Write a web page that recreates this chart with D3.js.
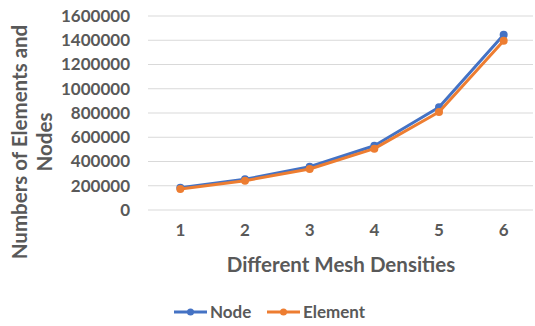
<!DOCTYPE html>
<html>
<head>
<meta charset="utf-8">
<script src="https://cdn.jsdelivr.net/npm/d3@7"></script>
<style>
  body { margin: 0; background: #fff; }
  text { font-family: Lato, "Open Sans", sans-serif; font-weight: bold; fill: #595959; }
</style>
</head>
<body>
<div id="plotarea"></div>
<script>
// mesh density levels and counts
var densities = ["1", "2", "3", "4", "5", "6"];
var nodeCounts = [184000, 253000, 357000, 530000, 847000, 1446000];
var elementCounts = [173000, 242000, 338000, 506000, 808000, 1396000];
var yTicks = [0, 200000, 400000, 600000, 800000, 1000000, 1200000, 1400000, 1600000];
var seriesNames = ["Node", "Element"];
var seriesColors = ["#4472C4", "#ED7D31"];

var W = 535, H = 326;
var plotLeft = 148, plotRight = 536, plotTop = 16, plotBottom = 210;

var svg = d3.select("#plotarea").append("svg")
  .attr("width", W).attr("height", H);

var x = d3.scaleBand().domain(densities).range([plotLeft, plotRight]);
var y = d3.scaleLinear().domain([0, 1600000]).range([plotBottom, plotTop]);

// gridlines
svg.append("g").selectAll("line")
  .data(yTicks).enter().append("line")
  .attr("x1", plotLeft).attr("x2", plotRight - 3)
  .attr("y1", function(d) { return y(d); })
  .attr("y2", function(d) { return y(d); })
  .attr("stroke", "#d9d9d9").attr("stroke-width", 1);

// y axis labels
var yAxis = svg.append("g")
  .attr("transform", "translate(" + (plotLeft - 8) + ",0)")
  .call(d3.axisLeft(y).tickValues(yTicks).tickSize(0).tickPadding(10).tickFormat(d3.format("d")));
yAxis.select(".domain").remove();
yAxis.selectAll("text").style("font-size", "17px").style("font-family", null).attr("fill", null);

// x axis labels
var xAxis = svg.append("g")
  .attr("transform", "translate(0," + plotBottom + ")")
  .call(d3.axisBottom(x).tickSize(0).tickPadding(14));
xAxis.select(".domain").remove();
xAxis.selectAll("text").style("font-size", "17px").style("font-family", null).attr("fill", null);

// axis titles
svg.append("text")
  .attr("x", 341).attr("y", 272)
  .attr("text-anchor", "middle")
  .style("font-size", "20.5px")
  .text("Different Mesh Densities");

var yt = svg.append("text")
  .attr("transform", "translate(27,142) rotate(-90)")
  .attr("text-anchor", "middle")
  .style("font-size", "20.5px");
yt.append("tspan").attr("x", 0).attr("dy", 0).text("Numbers of Elements and");
yt.append("tspan").attr("x", 0).attr("dy", 25).text("Nodes");

// series lines
var allSeries = [nodeCounts, elementCounts];
var line = d3.line()
  .x(function(d, i) { return x(densities[i]) + x.bandwidth() / 2; })
  .y(function(d) { return y(d); });

allSeries.forEach(function(vals, s) {
  svg.append("path")
    .datum(vals)
    .attr("d", line)
    .attr("fill", "none")
    .attr("stroke", seriesColors[s])
    .attr("stroke-width", 3)
    .attr("stroke-linejoin", "round");
  svg.selectAll(".dot" + s)
    .data(vals).enter().append("circle")
    .attr("class", "dot" + s)
    .attr("cx", function(d, i) { return x(densities[i]) + x.bandwidth() / 2; })
    .attr("cy", function(d) { return y(d); })
    .attr("r", 4)
    .attr("fill", seriesColors[s]);
});

// legend
var legendX = [174, 267];
seriesNames.forEach(function(name, s) {
  var g = svg.append("g").attr("transform", "translate(" + legendX[s] + ",312)");
  g.append("line").attr("x1", 0).attr("x2", 33).attr("y1", 0).attr("y2", 0)
    .attr("stroke", seriesColors[s]).attr("stroke-width", 3);
  g.append("circle").attr("cx", 16.5).attr("cy", 0).attr("r", 3.5).attr("fill", seriesColors[s]);
  g.append("text").attr("x", 36).attr("y", 6).style("font-size", "17px").text(name);
});
</script>
</body>
</html>
